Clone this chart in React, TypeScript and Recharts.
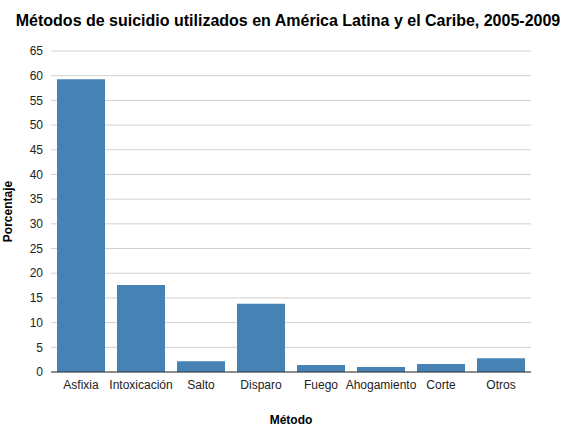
import React from "react";
import { BarChart, Bar, XAxis, YAxis, CartesianGrid } from "recharts";

const categories = ["Asfixia", "Intoxicación", "Salto", "Disparo", "Fuego", "Ahogamiento", "Corte", "Otros"];
const values = [59.3, 17.6, 2.2, 13.8, 1.4, 1.0, 1.6, 2.8];
const yTicks = [0, 5, 10, 15, 20, 25, 30, 35, 40, 45, 50, 55, 60, 65];

const data = categories.map((c, i) => ({ name: c, value: values[i] }));

export default function App() {
  const font = "Liberation Sans, Arial, sans-serif";
  return (
    <div style={{ position: "absolute", left: 0, top: 0, width: 576, height: 432, background: "#fff", fontFamily: font }}>
      <div style={{ position: "absolute", top: 12, width: 576, textAlign: "center", fontWeight: "bold", fontSize: 16, color: "#000" }}>
        Métodos de suicidio utilizados en América Latina y el Caribe, 2005-2009
      </div>
      <BarChart width={576} height={432} data={data} margin={{ top: 51, right: 45, left: 0, bottom: 0 }} barCategoryGap="10%">
        <CartesianGrid vertical={false} stroke="#d0d0d0" />
        <XAxis dataKey="name" height={60} tickLine={false} axisLine={{ stroke: "#333" }}
          tick={{ fontSize: 12, fill: "#222", fontFamily: font }}
          label={{ value: "Método", position: "insideBottom", offset: 8, fontSize: 12, fontWeight: "bold", fill: "#000", fontFamily: font }} />
        <YAxis width={51} domain={[0, 65]} ticks={yTicks} interval={0} axisLine={false} tickLine={false}
          tick={{ fontSize: 12, fill: "#222", fontFamily: font }}
          label={{ value: "Porcentaje", angle: -90, position: "insideLeft", offset: 8, fontSize: 12, fontWeight: "bold", fill: "#000", fontFamily: font, style: { textAnchor: "middle" } }} />
        <Bar dataKey="value" fill="#4682b4" isAnimationActive={false} />
      </BarChart>
    </div>
  );
}
